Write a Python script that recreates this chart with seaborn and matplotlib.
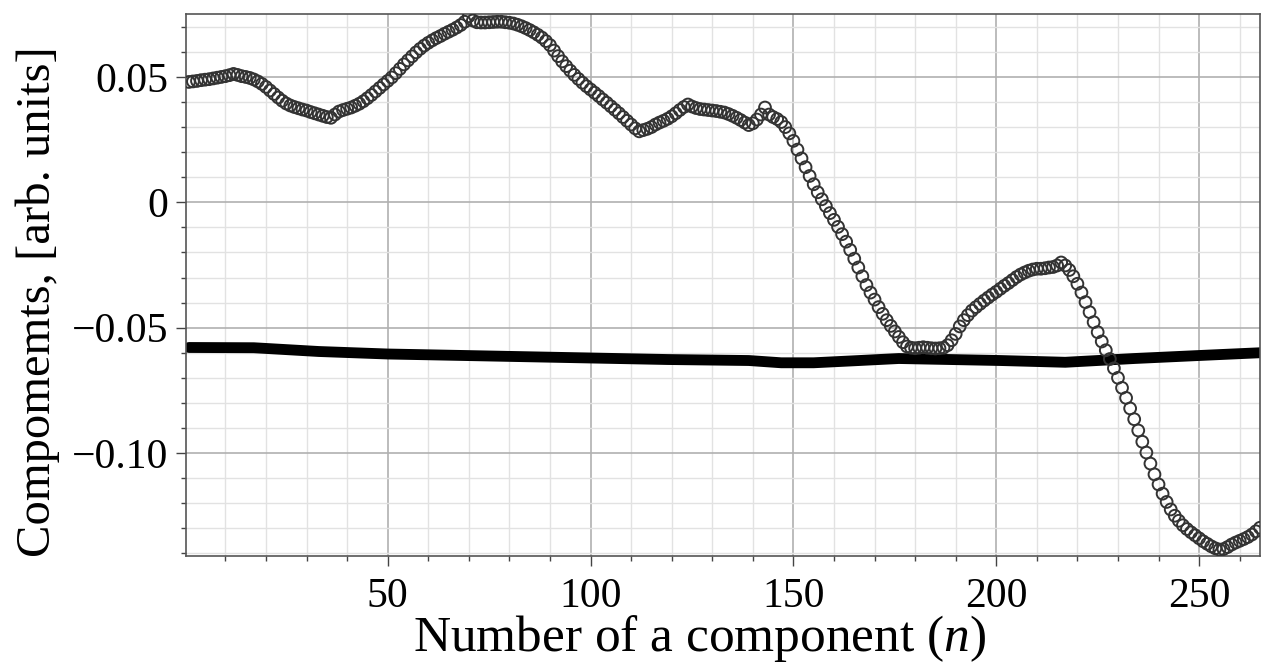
import matplotlib
matplotlib.use("Agg")
import matplotlib.pyplot as plt
import seaborn as sns
from matplotlib.ticker import MultipleLocator

# Componente por indice n (circulos)
n_points = list(range(1, 266))
components = [
    0.0480, 0.0482, 0.0484, 0.0487, 0.0489, 0.0491, 0.0494, 0.0497, 0.0500, 0.0503,
    0.0507, 0.0512, 0.0508, 0.0503, 0.0500, 0.0496, 0.0490, 0.0482, 0.0472, 0.0460,
    0.0446, 0.0432, 0.0418, 0.0405, 0.0394, 0.0386, 0.0380, 0.0375, 0.0370, 0.0366,
    0.0360, 0.0355, 0.0350, 0.0345, 0.0340, 0.0337, 0.0350, 0.0362, 0.0368, 0.0373,
    0.0378, 0.0385, 0.0393, 0.0403, 0.0415, 0.0428, 0.0442, 0.0456, 0.0470, 0.0484,
    0.0498, 0.0515, 0.0532, 0.0550, 0.0566, 0.0582, 0.0598, 0.0612, 0.0625, 0.0636,
    0.0646, 0.0655, 0.0663, 0.0672, 0.0680, 0.0688, 0.0697, 0.0707, 0.0720, 0.0742,
    0.0725, 0.0718, 0.0717, 0.0717, 0.0718, 0.0719, 0.0720, 0.0720, 0.0718, 0.0716,
    0.0713, 0.0708, 0.0702, 0.0695, 0.0687, 0.0678, 0.0668, 0.0657, 0.0643, 0.0627,
    0.0605, 0.0583, 0.0562, 0.0543, 0.0525, 0.0508, 0.0492, 0.0477, 0.0463, 0.0450,
    0.0437, 0.0424, 0.0410, 0.0397, 0.0383, 0.0369, 0.0355, 0.0340, 0.0325, 0.0310,
    0.0295, 0.0283, 0.0288, 0.0293, 0.0300, 0.0310, 0.0318, 0.0325, 0.0333, 0.0343,
    0.0355, 0.0368, 0.0380, 0.0390, 0.0382, 0.0376, 0.0372, 0.0370, 0.0368, 0.0366,
    0.0364, 0.0361, 0.0358, 0.0352, 0.0345, 0.0337, 0.0328, 0.0318, 0.0308, 0.0315,
    0.0330, 0.0350, 0.0378, 0.0350, 0.0340, 0.0332, 0.0320, 0.0300, 0.0275, 0.0245,
    0.0210, 0.0175, 0.0140, 0.0105, 0.0072, 0.0040, 0.0012, -0.0015, -0.0043, -0.0070,
    -0.0098, -0.0127, -0.0157, -0.0190, -0.0225, -0.0260, -0.0295, -0.0330, -0.0360, -0.0388,
    -0.0418, -0.0445, -0.0470, -0.0493, -0.0515, -0.0537, -0.0558, -0.0575, -0.0580, -0.0582,
    -0.0580, -0.0578, -0.0580, -0.0582, -0.0583, -0.0582, -0.0580, -0.0570, -0.0550, -0.0525,
    -0.0495, -0.0470, -0.0450, -0.0432, -0.0418, -0.0405, -0.0392, -0.0380, -0.0368, -0.0357,
    -0.0345, -0.0333, -0.0322, -0.0310, -0.0298, -0.0288, -0.0280, -0.0273, -0.0268, -0.0265,
    -0.0265, -0.0263, -0.0260, -0.0258, -0.0252, -0.0240, -0.0252, -0.0270, -0.0295, -0.0325,
    -0.0360, -0.0398, -0.0438, -0.0478, -0.0518, -0.0555, -0.0590, -0.0625, -0.0662, -0.0700,
    -0.0740, -0.0780, -0.0822, -0.0865, -0.0910, -0.0955, -0.0998, -0.1042, -0.1085, -0.1125,
    -0.1162, -0.1195, -0.1225, -0.1250, -0.1270, -0.1288, -0.1303, -0.1316, -0.1328, -0.1340,
    -0.1352, -0.1362, -0.1372, -0.1380, -0.1385, -0.1383, -0.1375, -0.1365, -0.1357, -0.1350,
    -0.1343, -0.1335, -0.1325, -0.1312, -0.1298,
]

# Curva gruesa (puntos leidos)
line_n = [1, 17, 33, 50, 69, 94, 119, 139, 147, 155, 165, 176, 201, 217, 234, 250, 265]
line_vals = [-0.0579, -0.0580, -0.0595, -0.0605, -0.0611, -0.0619, -0.0627, -0.0631,
             -0.0640, -0.0640, -0.0632, -0.0623, -0.0631, -0.0638, -0.0623, -0.0611, -0.0600]

x_ticks = [50, 100, 150, 200, 250]
x_tick_labels = ["50", "100", "150", "200", "250"]
y_ticks = [0.05, 0.0, -0.05, -0.10]
y_tick_labels = ["0.05", "0", "\u22120.05", "\u22120.10"]

sns.set_theme(style="whitegrid")
plt.rcParams["font.family"] = ["Liberation Serif", "DejaVu Serif"]
plt.rcParams["mathtext.fontset"] = "custom"
plt.rcParams["mathtext.rm"] = "Liberation Serif"
plt.rcParams["mathtext.it"] = "Liberation Serif:italic"

fig, ax = plt.subplots(figsize=(12.63, 6.66), dpi=100)
fig.subplots_adjust(left=0.1473, right=0.9976, top=0.979, bottom=0.165)

sns.lineplot(x=line_n, y=line_vals, ax=ax, color="black", linewidth=7.8, zorder=2)
sns.scatterplot(x=n_points, y=components, ax=ax, marker="o", s=72,
                facecolor="none", edgecolor="#333333", linewidth=1.4, zorder=3)

ax.set_xlim(0.3, 265)
ax.set_ylim(-0.1411, 0.0751)
ax.set_xticks(x_ticks, x_tick_labels)
ax.set_yticks(y_ticks, y_tick_labels)
ax.xaxis.set_minor_locator(MultipleLocator(10))
ax.yaxis.set_minor_locator(MultipleLocator(0.01))

ax.grid(which="major", color="#b0b0b0", linewidth=1.2)
ax.grid(which="minor", color="#e2e2e2", linewidth=1.0)
ax.set_axisbelow(True)

ax.tick_params(which="both", left=True, bottom=True, direction="out",
               color="#444444", width=1.0)
ax.tick_params(which="major", length=7.5, labelsize=30, pad=5, labelcolor="black")
ax.tick_params(axis="x", which="major", pad=8)
ax.tick_params(which="minor", length=3.6)

for sp in ax.spines.values():
    sp.set_color("#555555")
    sp.set_linewidth(1.2)

ax.set_xlabel("Number of a component ($n$)", fontsize=37, color="black")
ax.set_ylabel("Compomemts, [arb. units]", fontsize=35, color="black")
ax.xaxis.set_label_coords(0.478, -0.105)
ax.yaxis.set_label_coords(-0.117, 0.469)

fig.savefig("out.png", dpi=100)
